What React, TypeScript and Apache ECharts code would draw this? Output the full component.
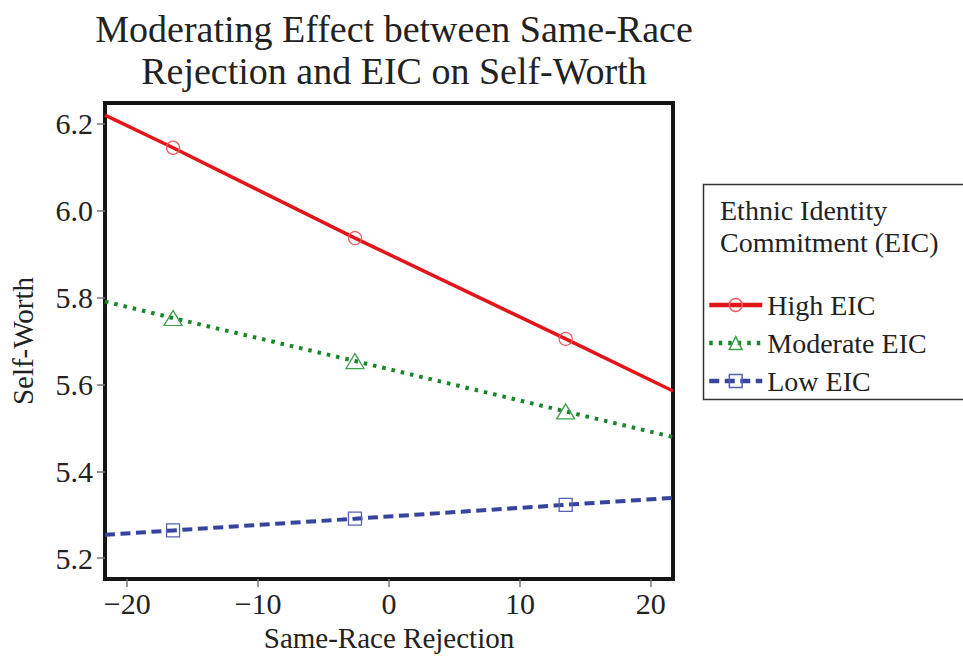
import React, { useEffect, useRef } from "react";
import * as echarts from "echarts";

const titleLines = ["Moderating Effect between Same-Race", "Rejection and EIC on Self-Worth"];
const xAxisName = "Same-Race Rejection";
const yAxisName = "Self-Worth";
const legendTitleLines = ["Ethnic Identity", "Commitment (EIC)"];
const seriesNames = ["High EIC", "Moderate EIC", "Low EIC"];

const xTickValues = [-20, -10, 0, 10, 20];
const yTickValues = [5.2, 5.4, 5.6, 5.8, 6.0, 6.2];
const xRange = [-21.7, 21.7];
const yRange = [5.152, 6.248];

// x positions of line ends and of the three markers
const xPoints = [-21.7, -16.5, -2.6, 13.5, 21.7];
const markerShown = [false, true, true, true, false];
const highEIC = [6.22, 6.145, 5.937, 5.705, 5.585];
const moderateEIC = [5.791, 5.753, 5.654, 5.538, 5.479];
const lowEIC = [5.254, 5.264, 5.291, 5.323, 5.339];

const FONT = "'Liberation Serif', 'Times New Roman', serif";

function buildData(values: number[]) {
  return xPoints.map((x, i) =>
    markerShown[i] ? { value: [x, values[i]] } : { value: [x, values[i]], symbol: "none" }
  );
}

export default function App() {
  const ref = useRef<HTMLDivElement>(null);
  useEffect(() => {
    if (!ref.current) return;
    const chart = echarts.init(ref.current, undefined, { renderer: "svg" });
    const seriesStyles = [
      { values: highEIC, line: "#e3151b", mark: "#ee5a62", symbol: "circle", size: 13, type: "solid" as any, width: 3.5 },
      { values: moderateEIC, line: "#17862b", mark: "#3f9e4d", symbol: "triangle", size: [18, 15], type: [3.5, 6], width: 4 },
      { values: lowEIC, line: "#37439c", mark: "#5661b4", symbol: "rect", size: 13, type: [10, 5.5], width: 4 },
    ];
    chart.setOption({
      animation: false,
      backgroundColor: "#ffffff",
      title: {
        text: titleLines.join("\n"),
        left: 389,
        top: 3,
        textAlign: "center",
        textStyle: {
          fontFamily: FONT,
          fontSize: 38,
          fontWeight: "normal",
          color: "#222",
          lineHeight: 42,
        },
      },
      grid: {
        left: 105,
        top: 103,
        width: 568,
        height: 480,
        show: true,
        borderWidth: 4,
        borderColor: "#151515",
        backgroundColor: "#ffffff",
      },
      xAxis: {
        type: "value",
        min: xRange[0],
        max: xRange[1],
        name: xAxisName,
        nameLocation: "middle",
        nameGap: 34,
        nameTextStyle: { fontFamily: FONT, fontSize: 29, color: "#222" },
        axisLine: { show: false, onZero: false },
        splitLine: { show: false },
        axisTick: {
          show: true,
          length: 8,
          inside: false,
          customValues: xTickValues,
          lineStyle: { color: "#777", width: 1.5 },
        },
        axisLabel: {
          customValues: xTickValues,
          margin: 9,
          fontFamily: FONT,
          fontSize: 30,
          color: "#222",
          formatter: (v: number) => String(v).replace("-", "\u2212"),
        },
      },
      yAxis: {
        type: "value",
        min: yRange[0],
        max: yRange[1],
        name: yAxisName,
        nameLocation: "middle",
        nameGap: 68,
        nameTextStyle: { fontFamily: FONT, fontSize: 29, color: "#222" },
        axisLine: { show: false, onZero: false },
        splitLine: { show: false },
        axisTick: {
          show: true,
          length: 8,
          inside: false,
          customValues: yTickValues,
          lineStyle: { color: "#777", width: 1.5 },
        },
        axisLabel: {
          customValues: yTickValues,
          margin: 12,
          fontFamily: FONT,
          fontSize: 30,
          color: "#222",
          formatter: (v: number) => v.toFixed(1),
        },
      },
      legend: {
        orient: "vertical",
        left: 707,
        top: 290,
        itemWidth: 53,
        itemHeight: 16,
        itemGap: 8,
        padding: 0,
        data: seriesNames,
        lineStyle: { width: 4.5 },
        itemStyle: { borderWidth: 1.5 },
        textStyle: { fontFamily: FONT, fontSize: 28, color: "#222", lineHeight: 30, padding: [0, 0, 0, 0] },
      },
      graphic: [
        {
          type: "rect",
          shape: { x: 703.5, y: 184.5, width: 300, height: 215 },
          style: { fill: "none", stroke: "#333", lineWidth: 1.5 },
          z: 0,
        },
        {
          type: "text",
          x: 720,
          y: 210,
          style: {
            text: legendTitleLines[0],
            fontFamily: FONT,
            fontSize: 28,
            fill: "#222",
            verticalAlign: "middle",
          },
        },
        {
          type: "text",
          x: 720,
          y: 242,
          style: {
            text: legendTitleLines[1],
            fontFamily: FONT,
            fontSize: 28,
            fill: "#222",
            verticalAlign: "middle",
          },
        },
      ],
      series: seriesStyles.map((s, i) => ({
        name: seriesNames[i],
        type: "line",
        data: buildData(s.values),
        symbol: s.symbol,
        symbolSize: s.size,
        showSymbol: true,
        color: s.line,
        lineStyle: { color: s.line, width: s.width, type: s.type, cap: "butt" },
        itemStyle: { color: "rgba(255,255,255,0)", borderColor: s.mark, borderWidth: 1.3 },
        emphasis: { disabled: true },
        z: 3,
      })),
    });
    return () => chart.dispose();
  }, []);
  return (
    <div
      ref={ref}
      style={{ position: "fixed", left: 0, top: 0, width: 963, height: 657 }}
    />
  );
}
